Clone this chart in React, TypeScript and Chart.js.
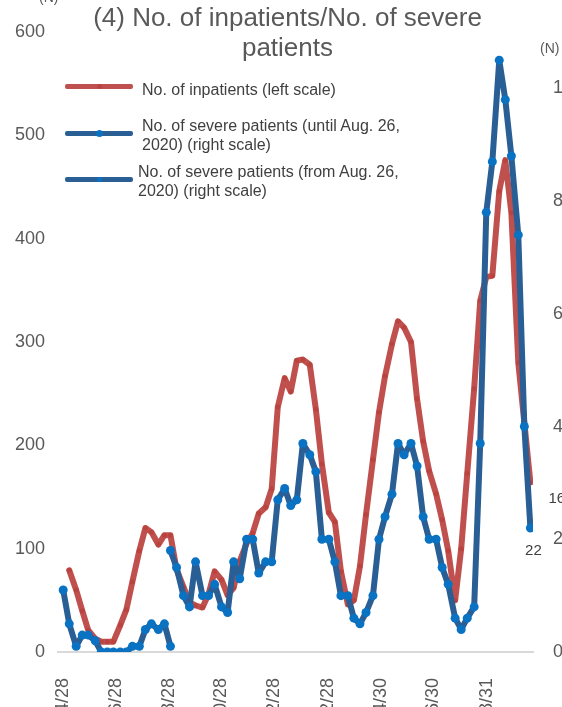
import React, { useEffect, useRef } from 'react';
import { Chart, registerables } from 'chart.js';

Chart.register(...registerables);

// x positions of the data points, in days after 2020/4/28
const pointDays = [
  0, 7, 15, 22, 29, 37, 44, 51, 58, 66, 73, 80, 88, 95, 102, 110, 117, 124, 131, 139,
  146, 153, 161, 168, 175, 183, 190, 197, 204, 212, 219, 226, 234, 241, 248, 256, 263, 270, 277, 285,
  292, 299, 307, 314, 321, 329, 336, 343, 350, 358, 365, 372, 380, 387, 394, 402, 409, 416, 423, 431,
  438, 445, 453, 460, 467, 475, 482, 489, 496, 504, 511, 518, 526, 533, 540,
];

// No. of inpatients (left scale)
const inpatients: (number | null)[] = [
  null, 79, 60, 40, 21, 13, 10, 10, 10, 26, 41, 68, 98, 120, 116, 104, 113, 113, 80, 63,
  48, 45, 43, 56, 78, 70, 55, 62, 88, 105, 115, 134, 140, 158, 237, 265, 252, 282, 283, 278,
  235, 182, 135, 126, 78, 46, 50, 83, 133, 186, 232, 267, 298, 320, 314, 300, 245, 204, 175, 153,
  128, 98, 50, 100, 173, 255, 340, 363, 364, 446, 476, 425, 280, 222, 164,
];

// No. of severe patients until Aug. 26, 2020 (right scale), from the first point
const severeUntil = [11, 5, 1, 3, 3, 2, 0, 0, 0, 0, 0, 1, 1, 4, 5, 4, 5, 1];

// No. of severe patients from Aug. 26, 2020 (right scale), starting at point index 17
const severeFromStart = 17;
const severeFrom = [
  18, 15, 10, 8, 16, 10, 10, 12, 8, 7, 16, 13, 20, 20, 14, 16, 16, 27, 29, 26,
  27, 37, 35, 32, 20, 20, 16, 10, 10, 6, 5, 7, 10, 20, 24, 28, 37, 35, 37, 33,
  24, 20, 20, 15, 12, 6, 4, 6, 8, 37, 78, 87, 105, 98, 88, 74, 40, 22,
];

// x-axis tick labels and their day offsets after 2020/4/28
const tickDays = [0, 61, 122, 183, 244, 306, 367, 428, 490];
const tickLabels = ['4/28', '6/28', '8/28', '10/28', '12/28', '2/28', '4/30', '6/30', '8/31'];

const legendLabels = [
  ['No. of inpatients (left scale)'],
  ['No. of severe patients (until Aug. 26,', '2020) (right scale)'],
  ['No. of severe patients (from Aug. 26,', '2020) (right scale)'],
];

const RED = '#C0504D';
const RED_DOT = '#B9433F';
const BLUE = '#2A5F95';
const BLUE_DOT = '#0A72C2';
const FONT = '"Liberation Sans", Arial, sans-serif';

const lastLabelPlugin = {
  id: 'lastLabels',
  afterDatasetsDraw(chart: any) {
    const ctx = chart.ctx;
    ctx.save();
    ctx.font = `15px ${FONT}`;
    ctx.fillStyle = '#404040';
    const rMeta = chart.getDatasetMeta(0);
    const rLast = rMeta.data[rMeta.data.length - 1];
    const rData = chart.data.datasets[0].data;
    ctx.textAlign = 'left';
    ctx.textBaseline = 'middle';
    ctx.fillText(String(rData[rData.length - 1].y), rLast.x + 18, rLast.y + 16);
    const bMeta = chart.getDatasetMeta(2);
    const bLast = bMeta.data[bMeta.data.length - 1];
    const bData = chart.data.datasets[2].data;
    ctx.textAlign = 'center';
    ctx.fillText(String(bData[bData.length - 1].y), bLast.x + 3, bLast.y + 23);
    ctx.restore();
  },
};

export default function App() {
  const ref = useRef<HTMLCanvasElement | null>(null);

  useEffect(() => {
    document.body.style.margin = '0';
    document.body.style.overflow = 'hidden';
    const canvas = ref.current;
    if (!canvas) return;

    const redData = inpatients
      .map((v, i) => (v === null ? null : { x: pointDays[i], y: v }))
      .filter((p) => p !== null);
    const untilData = severeUntil.map((v, i) => ({ x: pointDays[i], y: v }));
    const fromData = severeFrom.map((v, i) => ({ x: pointDays[severeFromStart + i], y: v }));

    const tickFont = { family: FONT, size: 18 };
    const lineCommon = {
      borderWidth: 6,
      borderJoinStyle: 'round' as const,
      borderCapStyle: 'round' as const,
      pointBorderWidth: 0,
      tension: 0,
    };

    const chart = new Chart(canvas, {
      type: 'line',
      data: {
        datasets: [
          {
            ...lineCommon,
            label: legendLabels[0].join(' '),
            data: redData as any,
            yAxisID: 'y',
            borderColor: RED,
            backgroundColor: RED_DOT,
            pointRadius: 2.5,
            pointBackgroundColor: RED_DOT,
            order: 3,
          },
          {
            ...lineCommon,
            label: legendLabels[1].join(' '),
            data: untilData,
            yAxisID: 'y1',
            borderColor: BLUE,
            backgroundColor: BLUE_DOT,
            pointRadius: 4.5,
            pointBackgroundColor: BLUE_DOT,
            order: 2,
          },
          {
            ...lineCommon,
            label: legendLabels[2].join(' '),
            data: fromData,
            yAxisID: 'y1',
            borderColor: BLUE,
            backgroundColor: BLUE_DOT,
            pointRadius: 4.5,
            pointBackgroundColor: BLUE_DOT,
            order: 1,
          },
        ],
      },
      options: {
        animation: false,
        responsive: false,
        maintainAspectRatio: false,
        devicePixelRatio: 1,
        layout: { padding: { top: 32, left: 0, right: 0, bottom: 0 } },
        plugins: {
          legend: { display: false },
          title: { display: false },
          tooltip: { enabled: false },
        },
        scales: {
          x: {
            type: 'linear',
            min: -6,
            max: 543,
            afterBuildTicks: (s: any) => {
              s.ticks = tickDays.map((v) => ({ value: v }));
            },
            afterFit: (s: any) => {
              s.height = 108;
            },
            ticks: {
              autoSkip: false,
              minRotation: 90,
              maxRotation: 90,
              padding: 26,
              color: '#595959',
              font: tickFont,
              callback: (v: any) => {
                const k = tickDays.indexOf(Number(v));
                return k >= 0 ? tickLabels[k] : '';
              },
            },
            grid: { display: false, drawTicks: false },
            border: { display: true, color: '#D9D9D9', width: 2 },
          },
          y: {
            position: 'left',
            min: 0,
            max: 600,
            afterFit: (s: any) => {
              s.width = 58;
            },
            ticks: { stepSize: 100, padding: 13, color: '#595959', font: tickFont },
            grid: { display: false, drawTicks: false },
            border: { display: false },
          },
          y1: {
            position: 'right',
            min: 0,
            max: 110,
            afterBuildTicks: (s: any) => {
              s.ticks = s.ticks.filter((t: any) => t.value <= 100);
            },
            afterFit: (s: any) => {
              s.width = 67;
            },
            ticks: { stepSize: 20, padding: 20, color: '#595959', font: tickFont },
            grid: { display: false, drawTicks: false },
            border: { display: false },
          },
        },
      },
      plugins: [lastLabelPlugin],
    });

    return () => chart.destroy();
  }, []);

  const legendColors = [
    { line: RED, dot: RED_DOT, r: 2.5 },
    { line: BLUE, dot: BLUE_DOT, r: 3.5 },
    { line: BLUE, dot: BLUE_DOT, r: 2.5 },
  ];
  const legendLineY = [86, 133, 179];
  const legendTextTop = [80, 115.5, 161.5];
  const legendTextLeft = [142, 142, 138];

  return (
    <div
      style={{
        position: 'relative',
        width: 562,
        height: 707,
        overflow: 'hidden',
        background: '#ffffff',
        fontFamily: FONT,
      }}
    >
      <canvas
        ref={ref}
        width={600}
        height={760}
        style={{ position: 'absolute', left: 0, top: 0, width: 600, height: 760 }}
      />
      <div
        style={{
          position: 'absolute',
          left: 0,
          top: 2,
          width: 575,
          textAlign: 'center',
          fontSize: 26,
          lineHeight: '30px',
          color: '#595959',
          whiteSpace: 'nowrap',
        }}
      >
        (4) No. of inpatients/No. of severe
        <br />
        patients
      </div>
      <div style={{ position: 'absolute', left: 39, top: -10, fontSize: 14, lineHeight: '14px', color: '#595959' }}>
        (N)
      </div>
      <div style={{ position: 'absolute', left: 540, top: 41, fontSize: 14, lineHeight: '14px', color: '#595959' }}>
        (N)
      </div>
      {legendLabels.map((lines, k) => (
        <React.Fragment key={k}>
          <div
            style={{
              position: 'absolute',
              left: 65,
              top: legendLineY[k] - 2.5,
              width: 68,
              height: 5,
              borderRadius: 2,
              background: legendColors[k].line,
            }}
          />
          <div
            style={{
              position: 'absolute',
              left: 99 - legendColors[k].r,
              top: legendLineY[k] - legendColors[k].r,
              width: legendColors[k].r * 2,
              height: legendColors[k].r * 2,
              borderRadius: '50%',
              background: legendColors[k].dot,
            }}
          />
          <div
            style={{
              position: 'absolute',
              left: legendTextLeft[k],
              top: legendTextTop[k],
              fontSize: 16,
              lineHeight: lines.length > 1 ? '19px' : '20px',
              color: '#404040',
              whiteSpace: 'nowrap',
            }}
          >
            {lines.map((t, j) => (
              <div key={j}>{t}</div>
            ))}
          </div>
        </React.Fragment>
      ))}
    </div>
  );
}
